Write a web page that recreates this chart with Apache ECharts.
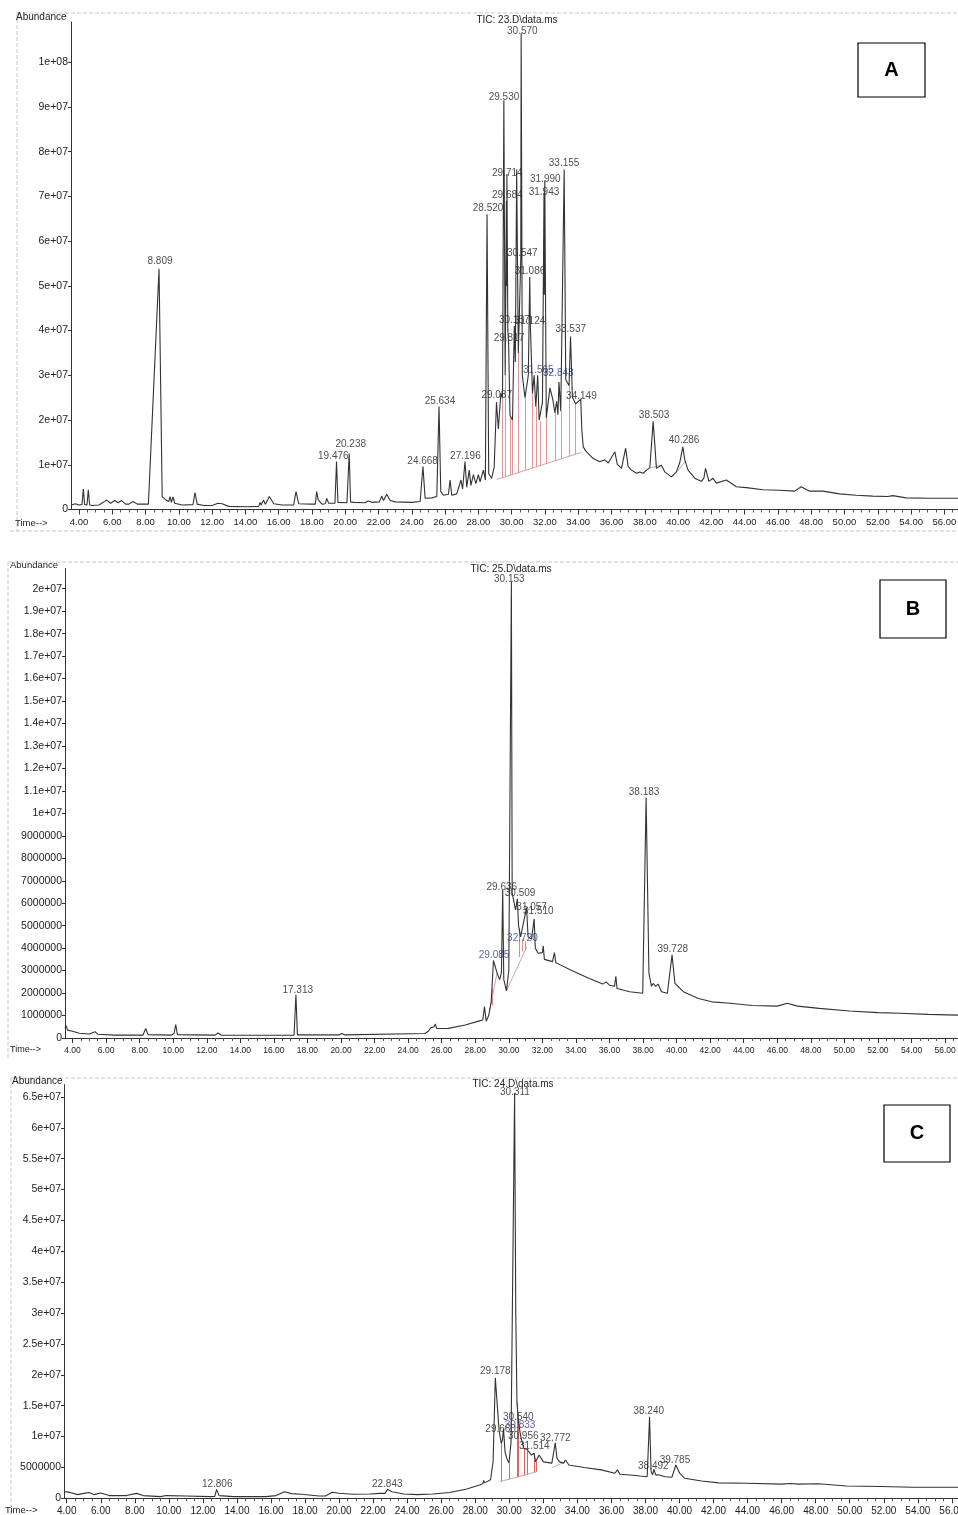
<!DOCTYPE html>
<html><head><meta charset="utf-8">
<script src="https://cdn.jsdelivr.net/npm/echarts@6/dist/echarts.min.js"></script>
<style>html,body{margin:0;padding:0;background:#fff}#c{width:958px;height:1515px}</style>
</head><body><div id="c"></div>
<script>
// ---------- DATA (time in min, abundance in millions) ----------
const xTicks = [4,6,8,10,12,14,16,18,20,22,24,26,28,30,32,34,36,38,40,42,44,46,48,50,52,54,56];
const yTicksA = [0,10,20,30,40,50,60,70,80,90,100];
const yTicksB = [0,1,2,3,4,5,6,7,8,9,10,11,12,13,14,15,16,17,18,19,20];
const yTicksC = [0,5,10,15,20,25,30,35,40,45,50,55,60,65];

const traceA = [[3.52,1.0],[3.8,1.3],[3.96,1.0],[4.18,1.1],[4.26,4.6],[4.34,1.1],[4.48,1.0],[4.56,4.4],[4.64,1.0],[4.8,0.9],[5.2,1.0],[5.66,2.1],[5.9,1.4],[6.16,2.0],[6.35,1.5],[6.56,2.0],[6.8,1.2],[7.0,1.2],[7.25,1.8],[7.5,1.2],[8.17,1.2],[8.81,53.8],[9.0,2.9],[9.2,2.2],[9.4,1.8],[9.47,2.9],[9.55,1.6],[9.65,2.8],[9.75,1.4],[10.2,1.0],[10.85,1.1],[10.97,3.8],[11.1,1.2],[11.5,0.9],[12.0,0.9],[12.35,1.4],[12.6,1.3],[13.0,0.7],[14.0,0.6],[14.8,0.7],[14.88,1.6],[14.95,1.0],[15.08,2.1],[15.2,1.2],[15.44,2.9],[15.7,1.3],[16.2,1.0],[16.9,1.0],[17.04,4.0],[17.2,1.3],[18.0,1.2],[18.2,1.2],[18.28,4.0],[18.37,2.2],[18.45,2.1],[18.6,1.2],[18.8,1.3],[18.89,2.5],[19.0,1.4],[19.38,1.4],[19.476,10.7],[19.56,1.6],[20.1,1.5],[20.18,1.6],[20.238,12.5],[20.32,1.7],[20.5,1.6],[21.2,1.5],[21.37,1.9],[21.6,1.6],[22.05,1.7],[22.19,3.0],[22.3,2.0],[22.49,3.4],[22.7,2.0],[23.0,1.7],[24.0,1.6],[24.5,1.8],[24.668,9.6],[24.8,2.5],[25.2,2.6],[25.5,2.9],[25.634,23.0],[25.74,4.0],[25.9,3.2],[26.2,3.4],[26.3,6.6],[26.4,3.2],[26.7,3.5],[26.95,6.6],[27.05,4.6],[27.196,10.7],[27.3,5.0],[27.45,8.8],[27.55,5.4],[27.7,7.8],[27.85,5.8],[28.0,7.8],[28.1,6.2],[28.3,8.8],[28.42,6.6],[28.52,66.0],[28.62,8.0],[28.8,7.0],[28.95,9.5],[29.087,24.0],[29.2,18],[29.35,26],[29.45,25],[29.53,91.5],[29.61,30],[29.684,69],[29.7,50],[29.714,75],[29.77,40],[29.817,37],[29.9,21],[30.05,20],[30.157,41],[30.22,33],[30.3,76],[30.4,35],[30.547,56],[30.57,106.5],[30.64,30],[30.8,25],[31.0,30],[31.086,52],[31.124,41],[31.25,26],[31.35,30],[31.45,23],[31.565,30],[31.65,20],[31.72,19.7],[31.85,24],[31.943,70.8],[31.96,48],[31.99,73.5],[32.08,20.5],[32.3,27.2],[32.47,24.6],[32.6,21.6],[32.7,24.2],[32.78,21.2],[32.843,28.5],[32.95,22],[33.155,76],[33.25,29],[33.45,27.7],[33.537,38.7],[33.65,25.1],[33.85,23.6],[34.149,24.7],[34.22,17.6],[34.3,14],[34.45,13.1],[34.9,11.4],[35.3,10.7],[35.6,11.1],[35.8,10.4],[36.2,12.9],[36.35,10.1],[36.6,9.2],[36.85,13.7],[37.0,9.6],[37.2,8.8],[37.5,8.1],[37.7,8.4],[37.9,8.1],[38.1,8.8],[38.3,9.3],[38.503,19.7],[38.7,9.2],[39.0,9.9],[39.2,8.4],[39.6,7.3],[39.9,8.4],[40.1,10.5],[40.286,14.0],[40.4,11.1],[40.6,8.8],[41.0,7.0],[41.4,6.3],[41.55,7.0],[41.65,9.2],[41.85,6.3],[42.1,7.0],[42.3,5.9],[42.9,6.6],[43.5,5.1],[44.1,4.9],[45.1,4.4],[46.1,4.3],[47.0,4.1],[47.4,5.1],[47.9,4.1],[48.7,4.1],[49.7,3.5],[50.7,3.2],[51.7,3.0],[52.6,2.9],[52.9,3.1],[53.7,2.6],[55.1,2.5],[56.82,2.5]];

const traceB = [[3.55,0.45],[3.62,0.55],[3.7,0.35],[4.0,0.3],[4.4,0.21],[5.0,0.18],[5.34,0.28],[5.5,0.17],[6.5,0.13],[8.2,0.13],[8.36,0.42],[8.5,0.15],[9.9,0.13],[10.05,0.2],[10.15,0.6],[10.25,0.15],[12.5,0.13],[12.67,0.22],[12.85,0.13],[17.2,0.12],[17.313,1.92],[17.4,0.14],[19.9,0.14],[20.05,0.2],[20.2,0.14],[25.0,0.2],[25.2,0.3],[25.35,0.45],[25.55,0.5],[25.62,0.62],[25.7,0.42],[26.4,0.43],[27.4,0.58],[28.2,0.75],[28.45,0.8],[28.55,1.4],[28.65,0.75],[28.8,1.0],[28.95,1.6],[29.085,3.45],[29.3,2.9],[29.45,2.6],[29.56,2.9],[29.636,6.6],[29.7,2.6],[29.86,2.1],[30.0,3.0],[30.153,20.3],[30.2,6.45],[30.4,5.7],[30.509,6.2],[30.58,5.0],[30.7,4.5],[31.057,5.8],[31.15,4.5],[31.35,4.4],[31.51,5.3],[31.58,4.0],[31.75,3.77],[32.0,3.8],[32.05,4.1],[32.12,3.5],[32.6,3.4],[32.72,3.8],[32.8,3.35],[32.95,3.3],[33.75,3.0],[34.8,2.65],[35.6,2.4],[35.8,2.5],[36.0,2.35],[36.3,2.3],[36.38,2.75],[36.45,2.2],[37.2,2.06],[37.98,1.99],[38.183,10.7],[38.35,2.9],[38.5,2.3],[38.6,2.43],[38.75,2.3],[38.9,2.4],[39.1,2.06],[39.45,1.99],[39.728,3.7],[39.9,2.43],[40.4,2.06],[41.3,1.76],[42.1,1.61],[43.2,1.55],[44.5,1.45],[46.0,1.42],[46.6,1.55],[47.2,1.42],[48.5,1.32],[50.3,1.2],[52.0,1.13],[53.3,1.1],[55.0,1.05],[56.77,1.02]];

const traceC = [[3.84,1.1],[3.9,1.25],[4.1,1.0],[4.25,0.9],[4.65,0.6],[5.0,0.8],[5.3,0.93],[5.6,0.6],[6.0,0.86],[6.5,0.44],[7.5,0.44],[8.1,0.8],[8.5,0.44],[9.5,0.27],[9.85,0.44],[11.0,0.38],[12.4,0.27],[12.7,0.3],[12.806,1.45],[12.95,0.44],[13.8,0.27],[15.7,0.27],[16.3,0.44],[16.8,1.07],[17.2,0.76],[17.8,0.65],[18.8,0.38],[19.2,0.38],[19.6,0.97],[20.0,0.81],[20.8,0.65],[21.8,0.7],[22.4,0.8],[22.7,0.8],[22.843,1.45],[23.1,1.07],[23.8,0.7],[24.6,0.6],[25.5,0.7],[26.5,0.95],[27.5,1.5],[28.3,2.2],[28.45,2.4],[28.5,2.9],[28.56,2.5],[28.9,3.0],[29.05,6.0],[29.178,19.5],[29.4,11.0],[29.53,8.9],[29.6,9.5],[29.66,11.3],[29.75,7.5],[29.85,6.5],[29.98,5.7],[30.1,9.0],[30.311,65.6],[30.38,30],[30.45,15.5],[30.54,12.5],[30.65,10.3],[30.85,8.1],[30.956,8.3],[31.05,7.9],[31.3,7.0],[31.45,7.3],[31.55,5.9],[31.75,7.0],[32.0,5.9],[32.5,5.7],[32.7,9.0],[32.8,6.5],[32.95,5.9],[33.2,5.7],[33.3,6.2],[33.5,5.4],[34.4,5.0],[35.4,4.6],[36.2,4.05],[36.35,4.6],[36.5,3.9],[37.1,3.77],[37.7,3.6],[38.1,3.5],[38.24,13.2],[38.33,4.3],[38.42,3.8],[38.492,4.7],[38.6,3.8],[38.75,3.8],[39.15,3.5],[39.55,3.4],[39.785,5.4],[40.0,4.1],[40.3,3.24],[41.3,2.8],[42.3,2.5],[43.95,2.43],[46.0,2.3],[46.5,2.4],[47.0,2.3],[48.15,2.35],[49.8,2.0],[51.8,1.9],[53.7,1.8],[56.36,1.8]];

// peak labels: [text, time at label centre, abundance at label centre]
const labelsA = [['8.809',8.87,55.4],['19.476',19.28,11.8],['20.238',20.33,14.65],['24.668',24.65,10.9],['25.634',25.69,24.1],['27.196',27.22,11.8],['28.520',28.58,67.4],['29.087',29.10,25.6],['29.530',29.54,92.2],['29.714',29.74,75.2],['29.684',29.74,70.2],['30.570',30.64,106.9],['31.990',32.02,73.9],['31.943',31.94,70.9],['33.155',33.15,77.4],['30.547',30.64,57.3],['31.086',31.10,53.2],['30.157',30.16,42.4],['31.124',31.10,42.0],['29.817',29.84,38.3],['33.537',33.55,40.2],['34.149',34.19,25.4],['38.503',38.56,21.1],['40.286',40.36,15.5]];
const labelsA2 = [['31.565',31.60,31.2],['32.843',32.80,30.5]];
const labelsB = [['17.313',17.42,2.13],['30.153',30.03,20.4],['29.636',29.58,6.73],['30.509',30.67,6.46],['31.057',31.36,5.84],['31.510',31.76,5.66],['38.183',38.06,10.95],['39.728',39.77,3.94]];
const labelsB2 = [['32.720',30.81,4.43],['29.085',29.12,3.69]];
const labelsC = [['12.806',12.84,2.27],['22.843',22.83,2.27],['30.311',30.33,65.8],['29.178',29.18,20.6],['30.540',30.53,13.2],['29.660',29.49,11.2],['30.956',30.82,10.0],['31.514',31.47,8.47],['32.772',32.70,9.72],['38.240',38.19,14.1],['38.492',38.46,5.23],['39.785',39.73,6.1]];
const labelsC2 = [['30.833',30.63,11.8]];

// integration baselines and drop lines: [time, bottom, top]
const baseA = [[[29.1,6.7],[34.2,12.8]],[[38.35,9.3],[38.95,9.9]],[[39.95,8.5],[40.45,10.8]]];
const dropsA = [[29.45,7.12,25],[29.61,7.31,30],[29.90,7.66,21],[30.05,7.84,20],[30.40,8.25,35],[30.80,8.73,25],[31.25,9.27,26],[31.45,9.51,23],[31.72,9.83,19.7],[32.08,10.26,20.5],[32.60,10.89,21.6],[32.95,11.30,22],[33.45,11.90,27.7],[33.85,12.38,23.6]];
const baseB = [[[28.85,1.2],[29.3,2.9]],[[29.86,2.1],[31.07,4.06]]];
const dropsB = [[29.0,1.45,2.2],[30.6,3.6,4.9],[30.8,3.85,4.4],[31.0,3.95,4.3]];
const baseC = [[[29.45,2.7],[31.61,4.3]],[[32.49,4.96],[33.28,5.9]]];
const dropsC = [[29.53,2.75,8.9],[29.98,3.1,5.7],[30.45,3.4,15.5],[30.55,3.5,12.5],[30.85,3.7,8.1],[31.05,3.85,7.9],[31.45,4.15,7.3],[31.6,4.3,5.9]];

// ---------- CHART ----------
const FONT = "'Liberation Sans', Arial, sans-serif";
const minorTicks = [];
xTicks.forEach(t => { [0.5,1,1.5].forEach(d => minorTicks.push(t + d)); });

function fmt(vM){
  const v = Math.round(vM * 1e6);
  if (v === 0) return '0';
  if (v >= 1e7){
    const e = Math.floor(Math.log10(v) + 1e-9);
    let m = Math.round(v / Math.pow(10, e) * 10) / 10;
    return String(m) + 'e+' + (e < 10 ? '0' + e : e);
  }
  return String(v);
}

const panels = [
  {trace:traceA, labels:labelsA, labels2:labelsA2, base:baseA, drops:dropsA, yTicks:yTicksA,
   grid:{left:71, top:22, width:887, height:487.5}, xmin:3.52, xmax:56.82, ymax:109, xfs:9.5, red:'#e28a8a'},
  {trace:traceB, labels:labelsB, labels2:labelsB2, base:baseB, drops:dropsB, yTicks:yTicksB,
   grid:{left:65, top:568.5, width:893, height:469.5}, xmin:3.55, xmax:56.77, ymax:20.9, xfs:8.5, red:'#e07a7a'},
  {trace:traceC, labels:labelsC, labels2:labelsC2, base:baseC, drops:dropsC, yTicks:yTicksC,
   grid:{left:64, top:1084.6, width:894, height:413.7}, xmin:3.84, xmax:56.36, ymax:67, xfs:10, red:'#d9534f'}
];

const grids = [], xAxes = [], yAxes = [], series = [];
panels.forEach((p, i) => {
  grids.push(Object.assign({containLabel:false, outerBoundsMode:'none'}, p.grid));
  xAxes.push({type:'value', gridIndex:i, min:p.xmin, max:p.xmax, position:'bottom',
    axisLine:{show:true, onZero:false, lineStyle:{color:'#333', width:1}},
    axisTick:{show:true, customValues:xTicks, length:5, lineStyle:{color:'#333'}},
    axisLabel:{show:true, customValues:xTicks, formatter:v => Number(v).toFixed(2), fontSize:p.xfs, color:'#222', fontFamily:FONT, margin:8, hideOverlap:false},
    splitLine:{show:false}});
  xAxes.push({type:'value', gridIndex:i, min:p.xmin, max:p.xmax, position:'bottom',
    axisLine:{show:false},
    axisTick:{show:true, customValues:minorTicks.filter(v => v > p.xmin && v < p.xmax), length:3, lineStyle:{color:'#555'}},
    axisLabel:{show:false}, splitLine:{show:false}});
  yAxes.push({type:'value', gridIndex:i, min:0, max:p.ymax,
    axisLine:{show:true, onZero:false, lineStyle:{color:'#333', width:1}},
    axisTick:{show:true, customValues:p.yTicks, length:3, lineStyle:{color:'#333'}},
    axisLabel:{show:true, customValues:p.yTicks, formatter:fmt, fontSize:10.5, color:'#222', fontFamily:FONT, margin:3},
    splitLine:{show:false}});
  const xi = i * 2;
  series.push({type:'lines', coordinateSystem:'cartesian2d', xAxisIndex:xi, yAxisIndex:i, silent:true,
    lineStyle:{color:p.red, width:1, opacity:0.9},
    data:p.drops.map(d => ({coords:[[d[0], d[1]], [d[0], d[2]]]}))});
  series.push({type:'lines', coordinateSystem:'cartesian2d', xAxisIndex:xi, yAxisIndex:i, silent:true,
    lineStyle:{color:'#c99', width:1, opacity:0.9},
    data:p.base.map(s => ({coords:s}))});
  series.push({type:'line', xAxisIndex:xi, yAxisIndex:i, data:p.trace, showSymbol:false, symbol:'none',
    lineStyle:{color:'#333', width:1.1}, silent:true});
  const mkLab = (arr, color) => ({type:'scatter', xAxisIndex:xi, yAxisIndex:i, symbolSize:1, silent:true,
    itemStyle:{color:'rgba(0,0,0,0)'},
    labelLayout:{hideOverlap:false},
    label:{show:true, position:'inside', formatter:'{b}', fontSize:10, color:color, fontFamily:FONT},
    data:arr.map(l => ({name:l[0], value:[l[1], l[2]]}))});
  series.push(mkLab(p.labels, '#222'));
  series.push(mkLab(p.labels2, '#2b3f8f'));
});

function txt(x, y, s, opt){
  return Object.assign({type:'text', x:x, y:y, silent:true,
    style:Object.assign({text:s, fill:'#222', font:'10px ' + FONT, textVerticalAlign:'middle'}, opt || {})});
}
function ln(x1, y1, x2, y2){
  return {type:'line', silent:true, shape:{x1:x1, y1:y1, x2:x2, y2:y2},
    style:{stroke:'#c8c8c8', lineWidth:1, lineDash:[4,2]}};
}
function box(x, y, w, h, s){
  return [{type:'rect', silent:true, shape:{x:x, y:y, width:w, height:h}, style:{fill:'#fff', stroke:'#000', lineWidth:1.2}},
          txt(x + w / 2, y + h / 2, s, {font:'bold 20px ' + FONT, fill:'#000', textAlign:'center'})];
}

const graphic = [
  ln(17, 13, 958, 13), ln(17, 13, 17, 531), ln(10, 531, 958, 531),
  ln(8, 562, 958, 562), ln(8, 562, 8, 1060),
  ln(11, 1078, 958, 1078), ln(11, 1078, 11, 1515),
  txt(16, 17, 'Abundance', {font:'10px ' + FONT}),
  txt(10, 565, 'Abundance', {font:'9.5px ' + FONT}),
  txt(12, 1081, 'Abundance', {font:'10px ' + FONT}),
  txt(15, 523, 'Time-->', {font:'9.5px ' + FONT}),
  txt(10, 1050, 'Time-->', {font:'9px ' + FONT}),
  txt(5, 1510, 'Time-->', {font:'9.5px ' + FONT}),
  txt(517, 20, 'TIC: 23.D\\data.ms', {font:'10px ' + FONT, textAlign:'center'}),
  txt(511, 569, 'TIC: 25.D\\data.ms', {font:'10px ' + FONT, textAlign:'center'}),
  txt(513, 1084, 'TIC: 24.D\\data.ms', {font:'10px ' + FONT, textAlign:'center'})
].concat(box(858, 43, 67, 54, 'A'), box(880, 580, 66, 58, 'B'), box(884, 1105, 66, 57, 'C'));

const chart = echarts.init(document.getElementById('c'), null, {renderer:'canvas'});
chart.setOption({
  animation:false,
  backgroundColor:'#fff',
  grid:grids, xAxis:xAxes, yAxis:yAxes, series:series, graphic:graphic
});
</script>
</body></html>
